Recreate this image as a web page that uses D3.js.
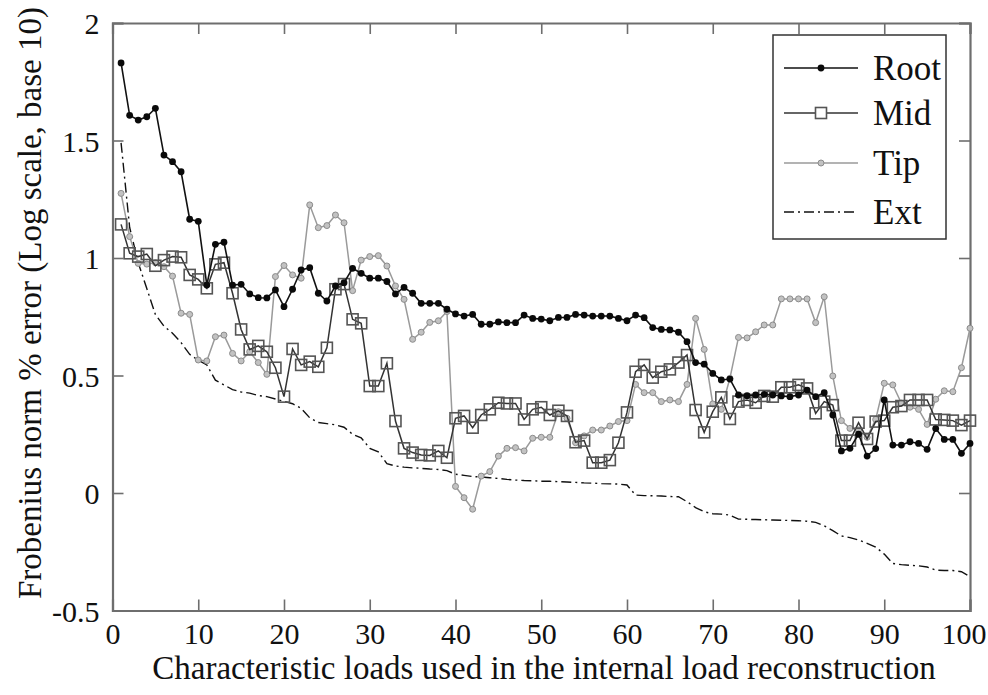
<!DOCTYPE html>
<html>
<head>
<meta charset="utf-8">
<script src="https://cdn.jsdelivr.net/npm/d3@7/dist/d3.min.js"></script>
<style>
  html, body { margin: 0; padding: 0; background: #fff; }
  svg text { font-family: "Liberation Serif", "Times New Roman", serif; fill: #111; }
</style>
</head>
<body>
<svg id="chart" width="988" height="695"></svg>
<script>
// Number of characteristic loads used (x positions)
const loads = d3.range(1, 101);

// log10 of Frobenius norm % error, per station
const root = [1.83,1.607,1.587,1.601,1.637,1.438,1.41,1.367,1.165,1.156,
  0.885,1.058,1.067,0.885,0.888,0.847,0.831,0.83,0.864,0.793,
  0.867,0.949,0.959,0.85,0.817,0.881,0.895,0.956,0.935,0.914,
  0.914,0.9,0.847,0.875,0.85,0.807,0.807,0.807,0.782,0.762,
  0.753,0.76,0.718,0.718,0.728,0.725,0.725,0.757,0.743,0.74,
  0.733,0.747,0.747,0.76,0.757,0.753,0.753,0.753,0.743,0.733,
  0.757,0.746,0.704,0.696,0.694,0.684,0.644,0.555,0.548,0.509,
  0.481,0.485,0.417,0.414,0.417,0.42,0.417,0.413,0.41,0.417,
  0.438,0.41,0.427,0.332,0.179,0.19,0.25,0.157,0.189,0.396,
  0.204,0.204,0.218,0.211,0.186,0.274,0.228,0.228,0.169,0.211];

const mid = [1.143,1.02,1.006,1.017,0.967,0.991,1.006,1.003,0.928,0.909,
  0.871,0.973,0.98,0.85,0.696,0.611,0.626,0.601,0.533,0.41,
  0.613,0.545,0.559,0.537,0.618,0.867,0.889,0.739,0.722,0.455,
  0.455,0.552,0.306,0.19,0.172,0.162,0.16,0.179,0.15,0.318,
  0.328,0.278,0.332,0.356,0.384,0.381,0.381,0.313,0.356,0.365,
  0.332,0.35,0.328,0.216,0.223,0.129,0.129,0.14,0.214,0.343,
  0.516,0.545,0.491,0.516,0.526,0.555,0.587,0.353,0.258,0.346,
  0.407,0.315,0.389,0.396,0.384,0.413,0.41,0.45,0.45,0.46,
  0.445,0.339,0.389,0.374,0.223,0.223,0.299,0.23,0.304,0.308,
  0.365,0.37,0.396,0.396,0.396,0.313,0.311,0.308,0.289,0.308];

const tip = [1.275,1.091,0.977,0.974,0.98,0.963,0.923,0.765,0.76,0.566,
  0.562,0.665,0.672,0.594,0.562,0.601,0.555,0.505,0.921,0.968,
  0.928,0.914,1.226,1.129,1.138,1.183,1.15,0.861,0.991,1.006,
  1.01,0.966,0.881,0.824,0.654,0.684,0.726,0.733,0.772,0.028,
  -0.02,-0.069,0.072,0.091,0.157,0.19,0.193,0.179,0.233,0.237,
  0.237,0.346,0.318,0.214,0.243,0.268,0.268,0.285,0.304,0.308,
  0.462,0.427,0.427,0.389,0.396,0.389,0.462,0.743,0.611,0.379,
  0.356,0.488,0.662,0.66,0.686,0.715,0.715,0.826,0.826,0.826,
  0.826,0.725,0.835,0.498,0.308,0.275,0.268,0.237,0.313,0.467,
  0.46,0.382,0.365,0.356,0.292,0.399,0.435,0.431,0.533,0.701];

const ext = [1.49,1.13,0.98,0.87,0.76,0.71,0.68,0.64,0.59,0.565,
  0.545,0.48,0.46,0.44,0.43,0.425,0.415,0.41,0.40,0.39,
  0.38,0.36,0.32,0.30,0.295,0.29,0.28,0.25,0.235,0.19,
  0.175,0.125,0.115,0.11,0.107,0.105,0.102,0.10,0.095,0.08,
  0.075,0.07,0.068,0.065,0.062,0.058,0.055,0.053,0.052,0.05,
  0.05,0.048,0.047,0.045,0.043,0.042,0.04,0.039,0.038,0.034,
  -0.009,-0.011,-0.012,-0.013,-0.015,-0.016,-0.037,-0.062,-0.08,-0.088,
  -0.09,-0.094,-0.111,-0.112,-0.113,-0.114,-0.115,-0.116,-0.117,-0.118,
  -0.12,-0.125,-0.14,-0.16,-0.183,-0.19,-0.2,-0.214,-0.23,-0.26,
  -0.3,-0.305,-0.308,-0.31,-0.315,-0.328,-0.33,-0.33,-0.335,-0.356];

const xTicks = [0,10,20,30,40,50,60,70,80,90,100];
const yTicks = [-0.5,0,0.5,1,1.5,2];
const legendNames = ["Root","Mid","Tip","Ext"];

const svg = d3.select("#chart");
const pLeft = 112.5, pRight = 970, pTop = 23, pBottom = 610.5;

const x = d3.scaleLinear().domain([0,100]).range([pLeft,pRight]);
const y = d3.scaleLinear().domain([-0.5,2]).range([pBottom,pTop]);

const frameColor = "#6e6e6e";
const tickFont = 30, titleFont = 33, legendFont = 35;

// axes with inward ticks on all four sides
const axB = svg.append("g").attr("transform",`translate(0,${pBottom})`)
  .call(d3.axisBottom(x).tickValues(xTicks).tickSize(-11).tickPadding(12).tickFormat(d3.format("d")));
const axT = svg.append("g").attr("transform",`translate(0,${pTop})`)
  .call(d3.axisTop(x).tickValues(xTicks).tickSize(-11).tickFormat(""));
const axL = svg.append("g").attr("transform",`translate(${pLeft},0)`)
  .call(d3.axisLeft(y).tickValues(yTicks).tickSize(-11).tickPadding(13).tickFormat(d => String(d)));
const axR = svg.append("g").attr("transform",`translate(${pRight},0)`)
  .call(d3.axisRight(y).tickValues(yTicks).tickSize(-11).tickFormat(""));

[axB,axT,axL,axR].forEach(g => {
  g.select(".domain").attr("stroke",frameColor).attr("stroke-width",2.2);
  g.selectAll(".tick line").attr("stroke",frameColor).attr("stroke-width",1.6);
  g.selectAll(".tick text").attr("font-family","Liberation Serif, serif").attr("font-size",tickFont).attr("fill","#111");
});
axB.selectAll(".tick text").attr("dy","0.71em");
// keep the last label inside the page
axB.selectAll(".tick text").filter(d => d === 100).attr("text-anchor","end").attr("x",16);
axL.selectAll(".tick text").attr("dy","0.36em");

// axis titles
svg.append("text").attr("x",544).attr("y",679)
  .attr("text-anchor","middle").attr("font-size",titleFont)
  .text("Characteristic loads used in the internal load reconstruction");
svg.append("text")
  .attr("transform",`translate(41,303) rotate(-90)`)
  .attr("text-anchor","middle").attr("font-size",titleFont)
  .text("Frobenius norm % error (Log scale, base 10)");

const plot = svg.append("g");
const line = d3.line().x((d,i) => x(loads[i])).y(d => y(d));

// Ext: dash-dot, no markers
plot.append("path").datum(ext).attr("d",line).attr("fill","none")
  .attr("stroke","#111").attr("stroke-width",1.4).attr("stroke-dasharray","10,4,2,4");

// Tip: light grey with small circles
plot.append("path").datum(tip).attr("d",line).attr("fill","none")
  .attr("stroke","#9a9a9a").attr("stroke-width",1.5);
plot.append("g").selectAll("circle").data(tip).join("circle")
  .attr("cx",(d,i)=>x(loads[i])).attr("cy",d=>y(d)).attr("r",3)
  .attr("fill","#c2c2c2").attr("stroke","#8c8c8c").attr("stroke-width",1);

// Mid: dark grey with open squares
plot.append("path").datum(mid).attr("d",line).attr("fill","none")
  .attr("stroke","#333").attr("stroke-width",1.5);
plot.append("g").selectAll("rect").data(mid).join("rect")
  .attr("x",(d,i)=>x(loads[i])-5.5).attr("y",d=>y(d)-5.5)
  .attr("width",11).attr("height",11)
  .attr("fill","none").attr("stroke","#555").attr("stroke-width",1.6);

// Root: black with filled dots
plot.append("path").datum(root).attr("d",line).attr("fill","none")
  .attr("stroke","#111").attr("stroke-width",1.6);
plot.append("g").selectAll("circle").data(root).join("circle")
  .attr("cx",(d,i)=>x(loads[i])).attr("cy",d=>y(d)).attr("r",3.4)
  .attr("fill","#0a0a0a");

// legend
const lg = svg.append("g");
lg.append("rect").attr("x",773).attr("y",35).attr("width",173).attr("height",204)
  .attr("fill","#fff").attr("stroke","#333").attr("stroke-width",1.5);
const rowY = [68,113,163,212];
const lx0 = 784, lx1 = 858, lxm = 821;
legendNames.forEach((name,i) => {
  const yy = rowY[i];
  const ln = lg.append("line").attr("x1",lx0).attr("x2",lx1).attr("y1",yy).attr("y2",yy);
  if (i===0) {
    ln.attr("stroke","#111").attr("stroke-width",1.6);
    lg.append("circle").attr("cx",lxm).attr("cy",yy).attr("r",3.4).attr("fill","#0a0a0a");
  } else if (i===1) {
    ln.attr("stroke","#333").attr("stroke-width",1.5);
    lg.append("rect").attr("x",lxm-5.5).attr("y",yy-5.5).attr("width",11).attr("height",11)
      .attr("fill","#fff").attr("stroke","#555").attr("stroke-width",1.6);
  } else if (i===2) {
    ln.attr("stroke","#9a9a9a").attr("stroke-width",1.5);
    lg.append("circle").attr("cx",lxm).attr("cy",yy).attr("r",3)
      .attr("fill","#c2c2c2").attr("stroke","#8c8c8c").attr("stroke-width",1);
  } else {
    ln.attr("stroke","#111").attr("stroke-width",1.4).attr("stroke-dasharray","10,4,2,4");
  }
  lg.append("text").attr("x",873).attr("y",yy).attr("dy","0.35em")
    .attr("font-size",legendFont).text(name);
});
</script>
</body>
</html>
